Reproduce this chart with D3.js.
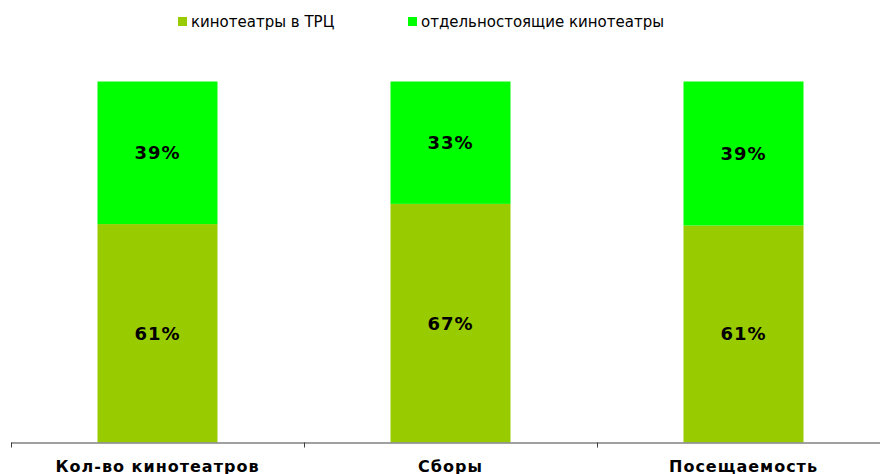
<!DOCTYPE html>
<html>
<head>
<meta charset="utf-8">
<script src="https://cdn.jsdelivr.net/npm/d3@7"></script>
<style>
	body { margin: 0; background: #fff; }
	svg { display: block; font-family: "DejaVu Sans", Verdana, sans-serif; }
</style>
</head>
<body>
<script>
var categories = ['Кол-во кинотеатров', 'Сборы', 'Посещаемость'];
var seriesNames = ['кинотеатры в ТРЦ', 'отдельностоящие кинотеатры'];
// shares
var mallShare = [60.5, 66.1, 60.1];
var standaloneShare = [39.5, 33.9, 39.9];
var mallLabels = ['61%', '67%', '61%'];
var standaloneLabels = ['39%', '33%', '39%'];
var colors = ['#99cc00', '#00ff00'];

var width = 880,
	height = 474;

var svg = d3.select('body').append('svg')
	.attr('width', width)
	.attr('height', height);

var x = d3.scaleBand()
	.domain(categories)
	.range([11, 890])
	.paddingInner(0)
	.paddingOuter(0);

var y = d3.scaleLinear()
	.domain([0, 100])
	.range([442.5, 81.5]);

var barWidth = 120;

var rows = categories.map(function(c, i){
	return {cat: c, mall: mallShare[i], standalone: standaloneShare[i]};
});
var stack = d3.stack().keys(['mall', 'standalone']);
var labels = [mallLabels, standaloneLabels];

var layers = svg.selectAll('g.layer')
	.data(stack(rows))
	.enter()
	.append('g')
	.attr('class', 'layer')
	.attr('fill', function(d, i){ return colors[i]; });

layers.selectAll('rect')
	.data(function(d){ return d; })
	.enter()
	.append('rect')
	.attr('x', function(d){ return x(d.data.cat) + (x.bandwidth() - barWidth) / 2; })
	.attr('width', barWidth)
	.attr('y', function(d){ return y(d[1]); })
	.attr('height', function(d){ return y(d[0]) - y(d[1]); });

layers.each(function(layer, li){
	d3.select(this).selectAll('text')
		.data(layer)
		.enter()
		.append('text')
		.attr('x', function(d){ return x(d.data.cat) + x.bandwidth() / 2; })
		.attr('y', function(d){ return (y(d[0]) + y(d[1])) / 2; })
		.attr('dy', '0.36em')
		.attr('text-anchor', 'middle')
		.attr('fill', '#000')
		.style('font-weight', 'bold')
		.style('font-size', '18px')
		.style('letter-spacing', '1px')
		.text(function(d, i){ return labels[li][i]; });
});

// x axis with ticks between categories
var axis = svg.append('g');
axis.append('line')
	.attr('x1', 11).attr('x2', 890)
	.attr('y1', y(0) + 0.5).attr('y2', y(0) + 0.5)
	.attr('stroke', '#808080')
	.attr('stroke-width', 1.5);
var tickPos = categories.map(function(c){ return x(c); }).concat([x.range()[1]]);
axis.selectAll('line.tick')
	.data(tickPos)
	.enter()
	.append('line')
	.attr('class', 'tick')
	.attr('x1', function(d){ return Math.round(d) + 0.5; })
	.attr('x2', function(d){ return Math.round(d) + 0.5; })
	.attr('y1', y(0))
	.attr('y2', y(0) + 5)
	.attr('stroke', '#404040');
axis.selectAll('text')
	.data(categories)
	.enter()
	.append('text')
	.attr('x', function(d){ return x(d) + x.bandwidth() / 2; })
	.attr('y', 472)
	.attr('text-anchor', 'middle')
	.style('font-weight', 'bold')
	.style('font-size', '16px')
	.style('letter-spacing', '1px')
	.text(function(d){ return d; });

// legend
var legendX = [178, 408];
var legend = svg.selectAll('g.legend')
	.data(seriesNames)
	.enter()
	.append('g')
	.attr('class', 'legend')
	.attr('transform', function(d, i){ return 'translate(' + legendX[i] + ',17)'; });
legend.append('rect')
	.attr('width', 9)
	.attr('height', 9)
	.attr('fill', function(d, i){ return colors[i]; });
legend.append('text')
	.attr('x', 13)
	.attr('y', 10)
	.style('font-size', '15px')
	.attr('fill', '#000')
	.text(function(d){ return d; });
</script>
</body>
</html>
